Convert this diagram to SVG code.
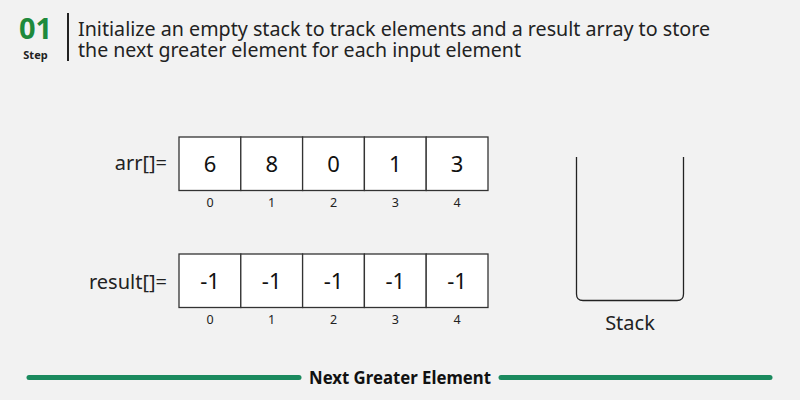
<svg xmlns="http://www.w3.org/2000/svg" width="800" height="400" viewBox="0 0 800 400">
<style>
.t{font-family:"Noto Sans","Open Sans",sans-serif;fill:#222}
.cell{fill:#fff;stroke:#333;stroke-width:1.3}
.val{font-family:"Noto Sans","Open Sans",sans-serif;font-size:22px;fill:#111;text-anchor:middle}
.idx{font-family:"Noto Sans","Open Sans",sans-serif;font-size:12.5px;fill:#222;text-anchor:middle}
.lbl{font-family:"Noto Sans","Open Sans",sans-serif;font-size:20px;fill:#222;text-anchor:end}
.bar{stroke:#1b8a5e;stroke-width:5;stroke-linecap:round}
</style>
<rect width="800" height="400" fill="#f2f2f2"/>
<g id="header">
<text x="35.5" y="39" text-anchor="middle" style="font-family:'Noto Sans',sans-serif;font-weight:bold;font-size:29px;fill:#1e8a3c">01</text>
<text x="35.5" y="58.5" text-anchor="middle" style="font-family:'Noto Sans',sans-serif;font-weight:bold;font-size:11px;fill:#222">Step</text>
<line x1="68" y1="13" x2="68" y2="61" stroke="#222" stroke-width="2"/>
<text class="t" x="78" y="36" font-size="19.5" textLength="632" lengthAdjust="spacingAndGlyphs">Initialize an empty stack to track elements and a result array to store</text>
<text class="t" x="78" y="57" font-size="19.5" textLength="443" lengthAdjust="spacingAndGlyphs">the next greater element for each input element</text>
</g>
<g id="arr">
<text class="lbl" x="167" y="170">arr[]=</text>
<rect class="cell" x="179" y="137" width="61.8" height="53.5"/>
<rect class="cell" x="240.8" y="137" width="61.8" height="53.5"/>
<rect class="cell" x="302.6" y="137" width="61.8" height="53.5"/>
<rect class="cell" x="364.4" y="137" width="61.8" height="53.5"/>
<rect class="cell" x="426.2" y="137" width="61.8" height="53.5"/>
<text class="val" x="210" y="172">6</text>
<text class="val" x="271.7" y="172">8</text>
<text class="val" x="333.5" y="172">0</text>
<text class="val" x="395.3" y="172">1</text>
<text class="val" x="457.1" y="172">3</text>
<text class="idx" x="210" y="207">0</text>
<text class="idx" x="271.7" y="207">1</text>
<text class="idx" x="333.5" y="207">2</text>
<text class="idx" x="395.3" y="207">3</text>
<text class="idx" x="457.1" y="207">4</text>
</g>
<g id="result">
<text class="lbl" x="167" y="289">result[]=</text>
<rect class="cell" x="179" y="254" width="61.8" height="53.5"/>
<rect class="cell" x="240.8" y="254" width="61.8" height="53.5"/>
<rect class="cell" x="302.6" y="254" width="61.8" height="53.5"/>
<rect class="cell" x="364.4" y="254" width="61.8" height="53.5"/>
<rect class="cell" x="426.2" y="254" width="61.8" height="53.5"/>
<text class="val" x="210" y="289">-1</text>
<text class="val" x="271.7" y="289">-1</text>
<text class="val" x="333.5" y="289">-1</text>
<text class="val" x="395.3" y="289">-1</text>
<text class="val" x="457.1" y="289">-1</text>
<text class="idx" x="210" y="324">0</text>
<text class="idx" x="271.7" y="324">1</text>
<text class="idx" x="333.5" y="324">2</text>
<text class="idx" x="395.3" y="324">3</text>
<text class="idx" x="457.1" y="324">4</text>
</g>
<g id="stack">
<path d="M576.5,157 V294 Q576.5,300.5 583,300.5 H677 Q683.5,300.5 683.5,294 V157" fill="none" stroke="#222" stroke-width="1.3"/>
<text class="t" x="630" y="330" font-size="20" text-anchor="middle">Stack</text>
</g>
<g id="footer">
<line class="bar" x1="29" y1="377.5" x2="299" y2="377.5"/>
<line class="bar" x1="501" y1="377.5" x2="770" y2="377.5"/>
<text x="400" y="383.5" text-anchor="middle" textLength="182" lengthAdjust="spacingAndGlyphs" style="font-family:'Noto Sans',sans-serif;font-weight:bold;font-size:17px;fill:#111">Next Greater Element</text>
</g>
</svg>
